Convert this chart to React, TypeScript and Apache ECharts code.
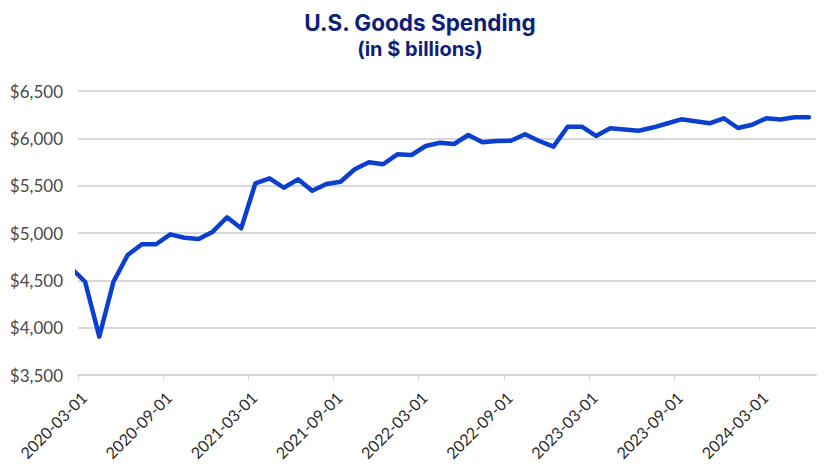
import React, { useEffect, useRef } from "react";
import * as echarts from "echarts";

const months: string[] = [
  "2020-02", "2020-03", "2020-04", "2020-05", "2020-06", "2020-07", "2020-08", "2020-09", "2020-10", "2020-11", "2020-12",
  "2021-01", "2021-02", "2021-03", "2021-04", "2021-05", "2021-06", "2021-07", "2021-08", "2021-09", "2021-10", "2021-11", "2021-12",
  "2022-01", "2022-02", "2022-03", "2022-04", "2022-05", "2022-06", "2022-07", "2022-08", "2022-09", "2022-10", "2022-11", "2022-12",
  "2023-01", "2023-02", "2023-03", "2023-04", "2023-05", "2023-06", "2023-07", "2023-08", "2023-09", "2023-10", "2023-11", "2023-12",
  "2024-01", "2024-02", "2024-03", "2024-04", "2024-05", "2024-06",
];

const spending: number[] = [
  4630, 4485, 3905, 4485, 4768, 4881, 4881, 4986, 4950, 4937, 5014,
  5166, 5050, 5525, 5578, 5478, 5567, 5447, 5518, 5542, 5673, 5747, 5726,
  5831, 5824, 5919, 5954, 5940, 6035, 5958, 5972, 5975, 6043, 5972, 5912,
  6123, 6123, 6025, 6106, 6093, 6080, 6114, 6157, 6201, 6180, 6159, 6212,
  6109, 6144, 6212, 6199, 6222, 6222,
];

const xTickLabels: string[] = [
  "2020-03-01", "2020-09-01", "2021-03-01", "2021-09-01", "2022-03-01",
  "2022-09-01", "2023-03-01", "2023-09-01", "2024-03-01",
];

const yTicks: number[] = [3500, 4000, 4500, 5000, 5500, 6000, 6500];

// month index relative to 2020-03-01 (axis origin); values plotted mid-month
const monthIndex = (ym: string): number => {
  const [y, m] = ym.split("-").map(Number);
  return (y - 2020) * 12 + (m - 3);
};
const labelIndex = (d: string): number => monthIndex(d.slice(0, 7));

export default function App() {
  const ref = useRef<HTMLDivElement>(null);

  useEffect(() => {
    document.body.style.margin = "0";
    const chart = echarts.init(ref.current!, null, { renderer: "svg" });
    const tickVals = xTickLabels.map(labelIndex);
    const labelMap: Record<number, string> = {};
    xTickLabels.forEach((d) => (labelMap[labelIndex(d)] = d));
    const xMax = monthIndex("2024-07");

    chart.setOption({
      animation: false,
      backgroundColor: "#ffffff",
      title: {
        text: "U.S. Goods Spending",
        subtext: "(in $ billions)",
        left: "center",
        top: 6,
        itemGap: 5,
        textStyle: {
          fontFamily: "Inter",
          fontWeight: "bold",
          fontSize: 22.5,
          color: "#0f1f78",
        },
        subtextStyle: {
          fontFamily: "Inter",
          fontWeight: "bold",
          fontSize: 20,
          color: "#0f1f78",
        },
      },
      grid: { left: 78, right: 24, top: 91, bottom: 97, containLabel: false },
      xAxis: {
        type: "value",
        min: 0,
        max: xMax,
        interval: 6,
        splitLine: { show: false },
        axisLine: { show: true, lineStyle: { color: "#d6d6d6", width: 2 } },
        axisTick: {
          show: true,
          length: 5,
          lineStyle: { color: "#d6d6d6", width: 1 },
          customValues: tickVals,
        },
        axisLabel: {
          rotate: 45,
          margin: 14,
          verticalAlign: "top",
          fontFamily: "Lato",
          fontSize: 16,
          color: "#2a2a2a",
          customValues: tickVals,
          formatter: (v: number) => labelMap[Math.round(v)] ?? "",
        },
      },
      yAxis: {
        type: "value",
        min: yTicks[0],
        max: yTicks[yTicks.length - 1],
        interval: 500,
        axisLine: { show: false },
        axisTick: { show: false },
        splitLine: { show: true, lineStyle: { color: "#d9d9d9", width: 2 } },
        axisLabel: {
          margin: 15,
          fontFamily: "Lato",
          fontSize: 17,
          color: "#4a4a4a",
          formatter: (v: number) => "$" + v.toLocaleString("en-US"),
        },
      },
      series: [
        {
          type: "line",
          clip: true,
          showSymbol: false,
          symbol: "none",
          data: months.map((m, i) => [monthIndex(m) + 0.5, spending[i]]),
          lineStyle: { color: "#0a3fd0", width: 4.5, join: "round", cap: "round" },
        },
      ],
    });
    return () => chart.dispose();
  }, []);

  return <div ref={ref} style={{ width: 840, height: 472 }} />;
}
